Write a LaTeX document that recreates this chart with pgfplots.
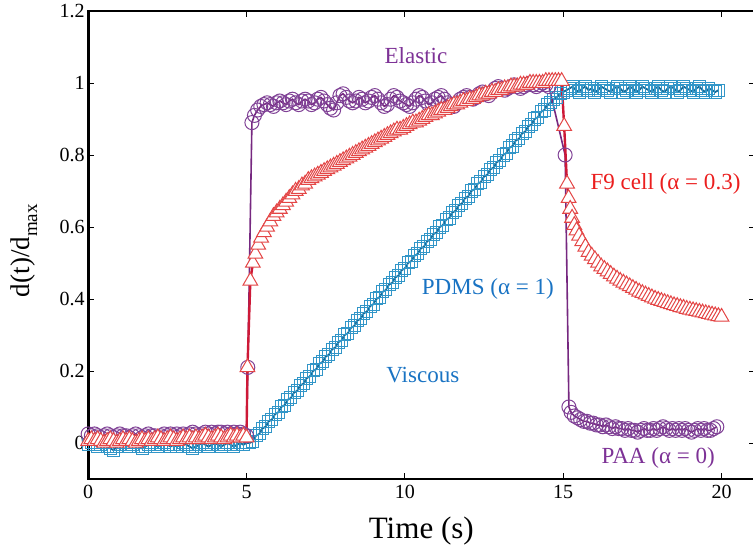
\documentclass[border=0pt]{standalone}
\usepackage{fontspec}
\setmainfont{Liberation Serif}
\usepackage{pgfplots}
\pgfplotsset{compat=1.18}
\definecolor{pur}{RGB}{118,40,128}
\definecolor{purm}{RGB}{128,66,150}
\definecolor{redl}{RGB}{205,25,55}
\definecolor{redm}{RGB}{228,70,70}
\definecolor{bluel}{RGB}{25,105,150}
\definecolor{bluem}{RGB}{50,150,200}
\definecolor{txtred}{RGB}{235,30,30}
\definecolor{txtblue}{RGB}{25,115,195}
\definecolor{txtpur}{RGB}{125,50,150}
\begin{document}
\begin{tikzpicture}
\begin{axis}[
  scale only axis, width=665pt, height=467pt,
  xmin=0, xmax=21.04, ymin=-0.1, ymax=1.2,
  xtick={0,5,10,15,20}, ytick={0,0.2,0.4,0.6,0.8,1,1.2},
  axis line style={line width=2.6pt, black},
  axis background/.style={draw=black, line width=2.8pt},
  major tick style={line width=0.8pt, black}, major tick length=6pt,
  tick label style={font=\fontsize{20}{24}\selectfont},
  xticklabel style={yshift=-3pt},
  /pgf/number format/assume math mode=true,
  xlabel={Time (s)},
  ylabel={d(t)/d\raisebox{-0.28em}{\fontsize{19}{19}\selectfont max}},
  xlabel style={font=\fontsize{31}{36}\selectfont, at={(axis description cs:0.5,-0.1113)}, anchor=center},
  ylabel style={font=\fontsize{27}{32}\selectfont, at={(axis description cs:-0.0962,0.488)}, anchor=center},
]
% PDMS (viscous)
\addplot[color=bluel, line width=1.8pt, mark=square, mark size=6pt, mark options={draw=bluem, line width=1pt, fill=none}] coordinates {
(0,-0.005)(0.1,0.0)(0.2,-0.005)(0.3,-0.01)(0.4,-0.005)(0.5,0.0)(0.6,-0.01)(0.7,-0.015)(0.8,-0.02)(0.9,-0.01)
(1.0,-0.005)(1.1,0.0)(1.2,-0.005)(1.3,-0.01)(1.4,-0.005)(1.5,0.0)(1.6,-0.01)(1.7,-0.015)(1.8,-0.01)(1.9,-0.005)
(2.0,0.0)(2.1,-0.005)(2.2,-0.01)(2.3,-0.005)(2.4,0.0)(2.5,-0.005)(2.6,-0.01)(2.7,-0.005)(2.8,-0.01)(2.9,-0.005)
(3.0,0.0)(3.1,-0.005)(3.2,-0.01)(3.3,-0.015)(3.4,-0.01)(3.5,-0.005)(3.6,0.0)(3.7,-0.005)(3.8,-0.01)(3.9,-0.005)
(4.0,0.0)(4.1,-0.005)(4.2,-0.01)(4.3,-0.005)(4.4,0.0)(4.5,-0.005)(4.6,-0.01)(4.7,-0.005)(4.8,0.0)(4.9,-0.005)
(5.0,0.0)(5.1,0.0)(5.2,0.005)
(5.3,0.02)(5.4,0.025)(5.5,0.04)(5.6,0.045)(5.7,0.06)(5.8,0.065)(5.9,0.08)(6.0,0.085)(6.1,0.1)(6.2,0.105)
(6.3,0.12)(6.4,0.125)(6.5,0.14)(6.6,0.145)(6.7,0.16)(6.8,0.165)(6.9,0.18)(7.0,0.185)(7.1,0.2)(7.2,0.205)
(7.3,0.22)(7.4,0.225)(7.5,0.24)(7.6,0.245)(7.7,0.26)(7.8,0.265)(7.9,0.28)(8.0,0.285)(8.1,0.3)(8.2,0.305)
(8.3,0.32)(8.4,0.325)(8.5,0.34)(8.6,0.345)(8.7,0.36)(8.8,0.365)(8.9,0.38)(9.0,0.385)(9.1,0.4)(9.2,0.405)
(9.3,0.42)(9.4,0.425)(9.5,0.44)(9.6,0.445)(9.7,0.46)(9.8,0.465)(9.9,0.48)(10.0,0.485)(10.1,0.5)(10.2,0.505)
(10.3,0.52)(10.4,0.525)(10.5,0.54)(10.6,0.545)(10.7,0.56)(10.8,0.565)(10.9,0.58)(11.0,0.585)(11.1,0.6)(11.2,0.605)
(11.3,0.62)(11.4,0.625)(11.5,0.64)(11.6,0.645)(11.7,0.66)(11.8,0.665)(11.9,0.68)(12.0,0.685)(12.1,0.7)(12.2,0.705)
(12.3,0.72)(12.4,0.725)(12.5,0.74)(12.6,0.745)(12.7,0.76)(12.8,0.765)(12.9,0.78)(13.0,0.785)(13.1,0.8)(13.2,0.805)
(13.3,0.82)(13.4,0.825)(13.5,0.84)(13.6,0.845)(13.7,0.86)(13.8,0.865)(13.9,0.88)(14.0,0.885)(14.1,0.9)(14.2,0.905)
(14.3,0.92)(14.4,0.925)(14.5,0.94)(14.6,0.945)(14.7,0.955)(14.8,0.96)(14.9,0.97)(15.0,0.975)
(15.1,0.98)(15.2,0.985)(15.3,0.99)(15.4,0.98)(15.5,0.975)(15.6,0.985)(15.7,0.99)(15.8,0.98)(15.9,0.985)(16.0,0.975)
(16.1,0.98)(16.2,0.99)(16.3,0.985)(16.4,0.98)(16.5,0.975)(16.6,0.985)(16.7,0.99)(16.8,0.985)(16.9,0.975)(17.0,0.98)
(17.1,0.99)(17.2,0.985)(17.3,0.975)(17.4,0.98)(17.5,0.99)(17.6,0.985)(17.7,0.98)(17.8,0.975)(17.9,0.985)(18.0,0.99)
(18.1,0.98)(18.2,0.975)(18.3,0.985)(18.4,0.99)(18.5,0.985)(18.6,0.975)(18.7,0.98)(18.8,0.99)(18.9,0.985)(19.0,0.98)
(19.1,0.975)(19.2,0.985)(19.3,0.99)(19.4,0.98)(19.5,0.975)(19.6,0.985)(19.7,0.98)(19.8,0.975)(19.9,0.98)
};
% Elastic / PAA
\addplot[color=pur, line width=1.6pt, mark=o, mark size=7pt, mark options={draw=purm, line width=1pt}] coordinates {
(0,0.025)(0.1,0.02)(0.2,0.025)(0.3,0.02)(0.4,0.015)(0.5,0.02)(0.6,0.025)(0.7,0.02)(0.8,0.015)(0.9,0.02)
(1.0,0.025)(1.1,0.02)(1.2,0.02)(1.3,0.015)(1.4,0.02)(1.5,0.025)(1.6,0.02)(1.7,0.015)(1.8,0.02)(1.9,0.025)
(2.0,0.02)(2.1,0.02)(2.2,0.015)(2.3,0.02)(2.4,0.025)(2.5,0.02)(2.6,0.025)(2.7,0.02)(2.8,0.025)(2.9,0.02)
(3.0,0.025)(3.1,0.02)(3.2,0.025)(3.3,0.03)(3.4,0.025)(3.5,0.02)(3.6,0.025)(3.7,0.03)(3.8,0.025)(3.9,0.03)
(4.0,0.025)(4.1,0.03)(4.2,0.03)(4.3,0.025)(4.4,0.03)(4.5,0.025)(4.6,0.03)(4.7,0.025)(4.8,0.03)(4.9,0.025)
(5.0,0.02)(5.04,0.21)(5.17,0.89)
(5.25,0.91)(5.35,0.925)(5.45,0.935)(5.55,0.94)(5.65,0.945)(5.75,0.94)(5.85,0.935)(5.95,0.945)(6.05,0.95)(6.15,0.945)
(6.25,0.94)(6.35,0.95)(6.45,0.955)(6.55,0.945)(6.65,0.94)(6.75,0.95)(6.85,0.955)(6.95,0.95)(7.05,0.94)(7.15,0.945)
(7.25,0.955)(7.35,0.96)(7.45,0.95)(7.55,0.94)(7.65,0.93)(7.75,0.925)(7.85,0.945)(7.95,0.965)(8.05,0.97)(8.15,0.96)
(8.25,0.95)(8.35,0.945)(8.45,0.95)(8.55,0.96)(8.65,0.955)(8.75,0.945)(8.85,0.95)(8.95,0.96)(9.05,0.965)(9.15,0.955)
(9.25,0.945)(9.35,0.935)(9.45,0.94)(9.55,0.955)(9.65,0.965)(9.75,0.96)(9.85,0.95)(9.95,0.945)(10.05,0.94)(10.15,0.935)
(10.25,0.945)(10.35,0.955)(10.45,0.965)(10.55,0.96)(10.65,0.95)(10.75,0.94)(10.85,0.945)(10.95,0.955)(11.05,0.96)(11.15,0.965)
(11.25,0.955)(11.35,0.945)(11.45,0.94)(11.55,0.935)(11.65,0.945)(11.75,0.955)(11.85,0.96)(11.95,0.965)(12.05,0.96)(12.15,0.955)
(12.25,0.96)(12.35,0.97)(12.45,0.975)(12.55,0.97)(12.65,0.965)(12.75,0.975)(12.85,0.985)(12.95,0.99)(13.05,0.985)(13.15,0.98)
(13.25,0.985)(13.35,0.99)(13.45,0.995)(13.55,0.99)(13.65,0.985)(13.75,0.99)(13.85,0.995)(13.95,1.0)(14.05,0.995)(14.15,0.99)
(14.25,0.995)(14.35,1.0)(14.45,0.995)(14.55,0.99)
(15.06,0.80)(15.18,0.10)(15.25,0.085)(15.35,0.075)(15.45,0.07)(15.55,0.065)(15.65,0.06)(15.75,0.06)(15.85,0.055)(15.95,0.055)
(16.05,0.05)(16.15,0.05)(16.25,0.045)(16.35,0.05)(16.45,0.045)(16.55,0.04)(16.65,0.045)(16.75,0.04)(16.85,0.04)(16.95,0.035)
(17.05,0.04)(17.15,0.035)(17.25,0.035)(17.35,0.03)(17.45,0.035)(17.55,0.04)(17.65,0.035)(17.75,0.035)(17.85,0.04)(17.95,0.035)
(18.05,0.04)(18.15,0.045)(18.25,0.04)(18.35,0.035)(18.45,0.04)(18.55,0.035)(18.65,0.04)(18.75,0.035)(18.85,0.04)(18.95,0.035)
(19.05,0.03)(19.15,0.035)(19.25,0.04)(19.35,0.035)(19.45,0.04)(19.55,0.035)(19.65,0.035)(19.75,0.04)(19.85,0.045)
};
% F9 cell
\addplot[color=redl, line width=2.4pt, mark=triangle*, mark size=8.5pt, mark options={draw=redm, fill=white, line width=1pt}] coordinates {
(0,0.005)(0.1,0.01)(0.2,0.005)(0.3,0.01)(0.4,0.005)(0.5,0.0)(0.6,0.005)(0.7,0.01)(0.8,0.005)(0.9,0.0)
(1.0,0.005)(1.1,0.01)(1.2,0.005)(1.3,0.01)(1.4,0.005)(1.5,0.0)(1.6,0.005)(1.7,0.01)(1.8,0.005)(1.9,0.01)
(2.0,0.005)(2.1,0.01)(2.2,0.015)(2.3,0.01)(2.4,0.005)(2.5,0.01)(2.6,0.015)(2.7,0.01)(2.8,0.005)(2.9,0.01)
(3.0,0.015)(3.1,0.01)(3.2,0.015)(3.3,0.01)(3.4,0.015)(3.5,0.01)(3.6,0.015)(3.7,0.02)(3.8,0.015)(3.9,0.01)
(4.0,0.015)(4.1,0.02)(4.2,0.015)(4.3,0.01)(4.4,0.015)(4.5,0.02)(4.6,0.015)(4.7,0.02)(4.8,0.015)(4.9,0.02)
(5.0,0.015)(5.03,0.21)(5.12,0.45)
(5.2,0.50)(5.28,0.525)(5.37,0.55)(5.46,0.57)(5.55,0.585)(5.65,0.60)(5.75,0.615)(5.85,0.63)(5.95,0.64)(6.05,0.65)
(6.15,0.66)(6.25,0.67)(6.35,0.68)(6.45,0.69)(6.55,0.70)(6.65,0.705)(6.75,0.715)(6.85,0.72)(6.95,0.73)(7.05,0.735)
(7.15,0.74)(7.25,0.745)(7.35,0.75)(7.45,0.755)(7.55,0.76)(7.65,0.765)(7.75,0.77)(7.85,0.775)(7.95,0.78)(8.05,0.785)
(8.15,0.79)(8.25,0.795)(8.35,0.80)(8.45,0.805)(8.55,0.81)(8.65,0.815)(8.75,0.82)(8.85,0.825)(8.95,0.83)(9.05,0.835)
(9.15,0.84)(9.25,0.845)(9.35,0.85)(9.45,0.855)(9.55,0.86)(9.65,0.865)(9.75,0.87)(9.85,0.87)(9.95,0.875)(10.05,0.88)
(10.15,0.885)(10.25,0.89)(10.35,0.89)(10.45,0.895)(10.55,0.90)(10.65,0.905)(10.75,0.91)(10.85,0.91)(10.95,0.915)(11.05,0.92)
(11.15,0.925)(11.25,0.925)(11.35,0.93)(11.45,0.935)(11.55,0.94)(11.65,0.94)(11.75,0.945)(11.85,0.95)(11.95,0.95)(12.05,0.955)
(12.15,0.955)(12.25,0.96)(12.35,0.965)(12.45,0.965)(12.55,0.97)(12.65,0.97)(12.75,0.975)(12.85,0.975)(12.95,0.98)(13.05,0.98)
(13.15,0.985)(13.25,0.985)(13.35,0.99)(13.45,0.99)(13.55,0.99)(13.65,0.995)(13.75,0.995)(13.85,0.995)(13.95,1.0)(14.05,1.0)
(14.15,1.0)(14.25,1.0)(14.35,1.0)(14.45,1.005)(14.55,1.005)(14.65,1.005)(14.75,1.005)(14.85,1.005)(14.95,1.005)
(15.03,0.88)(15.12,0.72)(15.17,0.68)(15.22,0.65)(15.28,0.625)(15.35,0.605)(15.42,0.59)(15.5,0.575)(15.6,0.56)(15.7,0.545)
(15.8,0.53)(15.9,0.52)(16.0,0.51)(16.1,0.50)(16.2,0.49)(16.3,0.483)(16.4,0.476)(16.5,0.469)(16.6,0.462)(16.7,0.456)
(16.8,0.45)(16.9,0.445)(17.0,0.44)(17.1,0.435)(17.2,0.43)(17.3,0.425)(17.4,0.42)(17.5,0.416)(17.6,0.412)(17.7,0.408)
(17.8,0.404)(17.9,0.40)(18.0,0.397)(18.1,0.394)(18.2,0.391)(18.3,0.388)(18.4,0.385)(18.5,0.382)(18.6,0.38)(18.7,0.377)
(18.8,0.375)(18.9,0.372)(19.0,0.37)(19.1,0.368)(19.2,0.366)(19.3,0.364)(19.4,0.362)(19.5,0.36)(19.6,0.358)(19.7,0.356)
(19.8,0.354)(19.9,0.352)(20.0,0.35)
};
\node[font=\fontsize{23}{27}\selectfont, text=txtpur] at (axis cs:10.35,1.075) {Elastic};
\node[font=\fontsize{23}{27}\selectfont, text=txtred] at (axis cs:18.23,0.72) {F9 cell (α = 0.3)};
\node[font=\fontsize{23}{27}\selectfont, text=txtblue] at (axis cs:12.62,0.428) {PDMS (α = 1)};
\node[font=\fontsize{23}{27}\selectfont, text=txtblue] at (axis cs:10.57,0.188) {Viscous};
\node[font=\fontsize{23}{27}\selectfont, text=txtpur] at (axis cs:18.0,-0.043) {PAA (α = 0)};
\end{axis}
\pgfresetboundingbox
\path[use as bounding box] ([xshift=-88pt,yshift=-76pt]current axis.south west) rectangle ([xshift=-1.5pt,yshift=11pt]current axis.north east);
\end{tikzpicture}
\end{document}
